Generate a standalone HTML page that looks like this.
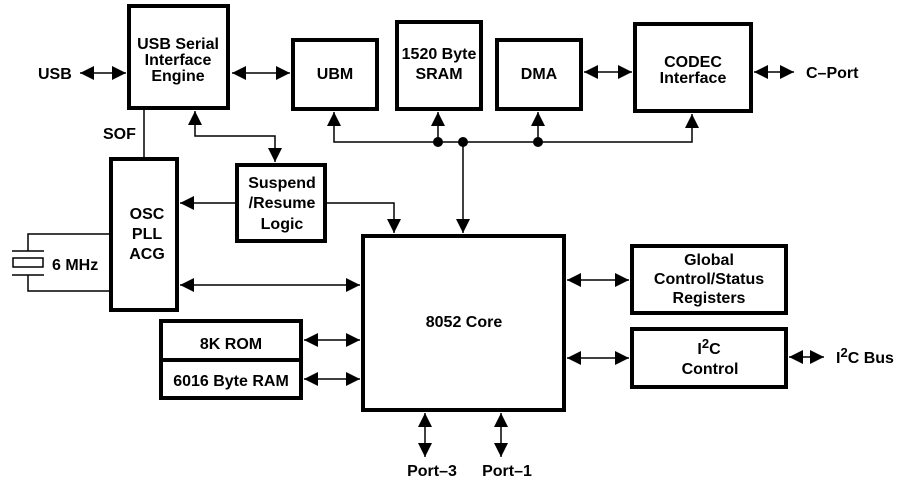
<!DOCTYPE html>
<html><head><style>
body{margin:0;background:#fff}
svg text{font-family:"Liberation Sans",Arial,sans-serif;font-weight:bold;font-size:16px;fill:#000}
</style></head><body>
<svg width="909" height="487" viewBox="0 0 909 487" xmlns="http://www.w3.org/2000/svg">
<defs>
<marker id="a" viewBox="0 0 10 10" refX="10" refY="5" markerWidth="14" markerHeight="14" markerUnits="userSpaceOnUse" orient="auto-start-reverse"><path d="M0,0L10,5L0,10z" fill="#000"/></marker>
</defs>
<g fill="none" stroke="#000" stroke-width="4">
<rect x="129" y="6" width="99" height="102"/>
<rect x="293" y="40" width="84" height="69"/>
<rect x="397" y="22" width="84" height="87"/>
<rect x="497" y="40" width="84" height="69"/>
<rect x="635" y="24" width="116" height="87"/>
<rect x="237" y="165" width="88" height="76"/>
<rect x="111" y="159" width="66" height="151"/>
<rect x="363" y="236" width="201" height="174"/>
<rect x="161" y="321" width="140" height="39"/>
<rect x="161" y="360" width="140" height="38"/>
<rect x="632" y="246" width="154" height="67"/>
<rect x="632" y="329" width="154" height="58"/>
</g>
<g fill="none" stroke="#000" stroke-width="1.5">
<line x1="80" y1="73" x2="126" y2="73" marker-start="url(#a)" marker-end="url(#a)"/>
<line x1="232" y1="73" x2="290" y2="73" marker-start="url(#a)" marker-end="url(#a)"/>
<line x1="584" y1="72" x2="632" y2="72" marker-start="url(#a)" marker-end="url(#a)"/>
<line x1="754" y1="72" x2="794" y2="72" marker-start="url(#a)" marker-end="url(#a)"/>
<polyline points="334,112 334,142 692,142 692,114" marker-start="url(#a)" marker-end="url(#a)"/>
<line x1="438" y1="142" x2="438" y2="112" marker-end="url(#a)"/>
<line x1="538" y1="142" x2="538" y2="112" marker-end="url(#a)"/>
<line x1="463" y1="142" x2="463" y2="233" marker-end="url(#a)"/>
<line x1="144" y1="110" x2="144" y2="157"/>
<polyline points="195,111 195,136 275,136 275,162" marker-start="url(#a)" marker-end="url(#a)"/>
<line x1="235" y1="203" x2="180" y2="203" marker-end="url(#a)"/>
<polyline points="327,203 394,203 394,233" marker-end="url(#a)"/>
<line x1="180" y1="285" x2="360" y2="285" marker-start="url(#a)" marker-end="url(#a)"/>
<line x1="304" y1="340" x2="360" y2="340" marker-start="url(#a)" marker-end="url(#a)"/>
<line x1="304" y1="379" x2="360" y2="379" marker-start="url(#a)" marker-end="url(#a)"/>
<line x1="567" y1="280" x2="629" y2="280" marker-start="url(#a)" marker-end="url(#a)"/>
<line x1="567" y1="358" x2="629" y2="358" marker-start="url(#a)" marker-end="url(#a)"/>
<line x1="789" y1="357" x2="824" y2="357" marker-start="url(#a)" marker-end="url(#a)"/>
<line x1="425" y1="413" x2="425" y2="457" marker-start="url(#a)" marker-end="url(#a)"/>
<line x1="501" y1="413" x2="501" y2="457" marker-start="url(#a)" marker-end="url(#a)"/>
<polyline points="109,234 28,234 28,251"/>
<polyline points="109,291 28,291 28,275"/>
<line x1="12" y1="251" x2="44" y2="251"/>
<line x1="12" y1="275" x2="44" y2="275"/>
<rect x="13" y="258" width="30" height="9"/>
</g>
<g fill="#000"><circle cx="438" cy="142" r="5"/><circle cx="463" cy="142" r="5"/><circle cx="538" cy="142" r="5"/></g>
<g text-anchor="middle">
<text x="178" y="49">USB Serial</text>
<text x="178" y="65">Interface</text>
<text x="178" y="81">Engine</text>
<text x="335" y="79">UBM</text>
<text x="439" y="59">1520 Byte</text>
<text x="439" y="79">SRAM</text>
<text x="539" y="79">DMA</text>
<text x="693" y="67">CODEC</text>
<text x="693" y="83">Interface</text>
<text x="282" y="188">Suspend</text>
<text x="282" y="208">/Resume</text>
<text x="282" y="229">Logic</text>
<text x="147" y="219">OSC</text>
<text x="147" y="239">PLL</text>
<text x="147" y="259">ACG</text>
<text x="464" y="327">8052 Core</text>
<text x="231" y="349">8K ROM</text>
<text x="231" y="386">6016 Byte RAM</text>
<text x="709" y="265">Global</text>
<text x="709" y="284">Control/Status</text>
<text x="709" y="303">Registers</text>
<text x="709" y="354">I<tspan dy="-6" font-size="13">2</tspan><tspan dy="6">C</tspan></text>
<text x="710" y="374">Control</text>
<text x="432" y="476">Port–3</text>
<text x="507" y="476">Port–1</text>
</g>
<text x="38" y="79">USB</text>
<text x="806" y="78">C–Port</text>
<text x="103" y="139">SOF</text>
<text x="52" y="270">6 MHz</text>
<text x="836" y="363">I<tspan dy="-6" font-size="13">2</tspan><tspan dy="6">C Bus</tspan></text>
</svg>
</body></html>
